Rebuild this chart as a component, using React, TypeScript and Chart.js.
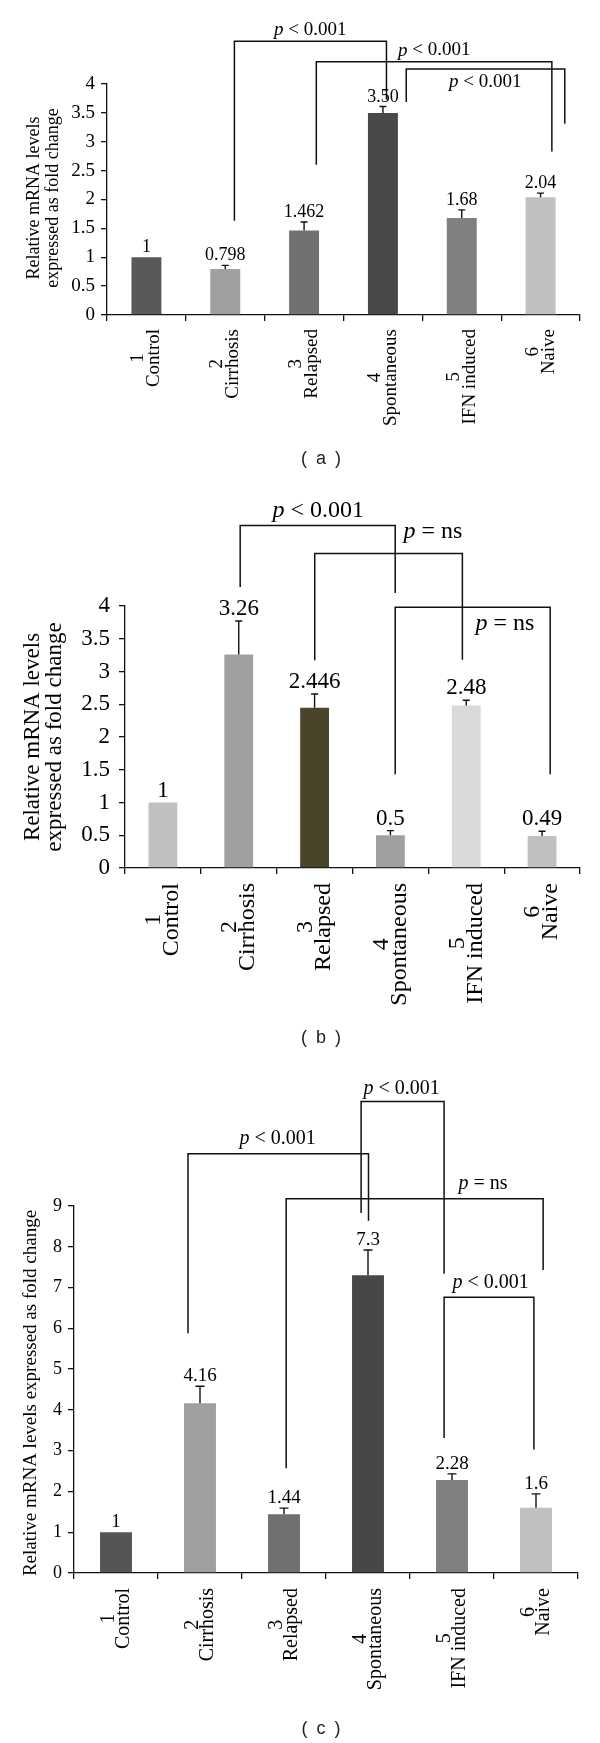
import React, { useEffect, useRef } from "react";
import { Chart, registerables } from "chart.js";

Chart.register(...registerables);

const SERIF = '"Liberation Serif", "Times New Roman", serif';

// ---- shared categories ----
const groupNumbers = ["1", "2", "3", "4", "5", "6"];
const groupNames = ["Control", "Cirrhosis", "Relapsed", "Spontaneous", "IFN induced", "Naive"];

// ---- panel (a) ----
const valuesA = [1, 0.798, 1.462, 3.5, 1.68, 2.04];
const valueTextA = ["1", "0.798", "1.462", "3.50", "1.68", "2.04"];
const errorsA = [0, 0.062, 0.148, 0.11, 0.14, 0.07];
const colorsA = ["#595959", "#a0a0a0", "#717171", "#494949", "#808080", "#c0c0c0"];
// [fromCategory, toCategory, topValue, fromEndValue, toEndValue]
const bracketsA = [
  [1.116, 3.045, 4.74, 1.63, 3.73],
  [2.155, 5.143, 4.385, 2.6, 2.83],
  [3.296, 5.307, 4.26, 3.69, 3.31],
];
const bracketTextA = ["< 0.001", "< 0.001", "< 0.001"];
const bracketTextPosA = [
  [2.077, 4.93],
  [3.65, 4.58],
  [4.297, 4.04],
];

// ---- panel (b) ----
const valuesB = [1, 3.26, 2.446, 0.5, 2.48, 0.49];
const valueTextB = ["1", "3.26", "2.446", "0.5", "2.48", "0.49"];
const errorsB = [0, 0.51, 0.21, 0.07, 0.08, 0.07];
const colorsB = ["#c0c0c0", "#a0a0a0", "#4a452a", "#a0a0a0", "#d9d9d9", "#bfbfbf"];
const bracketsB = [
  [1.019, 3.063, 5.23, 4.29, 4.2],
  [2.002, 3.949, 4.8, 3.17, 3.18],
  [3.063, 5.107, 3.98, 1.43, 1.43],
];
const bracketTextB = ["< 0.001", "= ns", "= ns"];
const bracketTextPosB = [
  [2.047, 5.46],
  [3.56, 5.13],
  [4.51, 3.73],
];

// ---- panel (c) ----
const valuesC = [1, 4.16, 1.44, 7.3, 2.28, 1.6];
const valueTextC = ["1", "4.16", "1.44", "7.3", "2.28", "1.6"];
const errorsC = [0, 0.42, 0.15, 0.62, 0.15, 0.34];
const colorsC = ["#555555", "#a0a0a0", "#707070", "#474747", "#808080", "#c0c0c0"];
const bracketsC = [
  [0.857, 3.006, 10.28, 5.88, 8.64],
  [2.918, 3.906, 11.56, 8.83, 7.34],
  [2.026, 5.085, 9.18, 2.57, 7.43],
  [3.906, 4.975, 6.76, 3.31, 3.03],
];
const bracketTextC = ["< 0.001", "< 0.001", "= ns", "< 0.001"];
const bracketTextPosC = [
  [1.924, 10.65],
  [3.4, 11.88],
  [4.37, 9.55],
  [4.46, 7.11],
];

const yTitleTwoLines = ["Relative mRNA levels", "expressed as fold change"];
const yTitleOneLine = ["Relative mRNA levels expressed as fold change"];

type PanelSpec = {
  values: number[];
  valueText: string[];
  errors: number[];
  colors: string[];
  brackets: number[][];
  bracketText: string[];
  bracketPos: number[][];
  yMax: number;
  yStep: number;
  canvasTop: number;
  canvasHeight: number;
  area: { left: number; right: number; top: number; bottom: number };
  tickFont: number;
  tickPadding: number;
  valueFont: number;
  valueGap: number;
  cap: number;
  noteFont: number;
  xFont: number;
  xLine: number;
  xGap: number;
  yTitle: string[];
  yTitleFont: number;
  yTitleX: number[];
  yTitleY: number;
};

const panels: PanelSpec[] = [
  {
    values: valuesA, valueText: valueTextA, errors: errorsA, colors: colorsA,
    brackets: bracketsA, bracketText: bracketTextA, bracketPos: bracketTextPosA,
    yMax: 4, yStep: 0.5, canvasTop: 0, canvasHeight: 490,
    area: { left: 107, right: 580, top: 84, bottom: 315 },
    tickFont: 19, tickPadding: 6, valueFont: 18, valueGap: 5, cap: 7, noteFont: 19,
    xFont: 19, xLine: 16, xGap: 14,
    yTitle: yTitleTwoLines, yTitleFont: 18, yTitleX: [34, 53], yTitleY: 198,
  },
  {
    values: valuesB, valueText: valueTextB, errors: errorsB, colors: colorsB,
    brackets: bracketsB, bracketText: bracketTextB, bracketPos: bracketTextPosB,
    yMax: 4, yStep: 0.5, canvasTop: 490, canvasHeight: 560,
    area: { left: 125, right: 580, top: 116, bottom: 378 },
    tickFont: 23, tickPadding: 9, valueFont: 23, valueGap: 6, cap: 7, noteFont: 24,
    xFont: 24, xLine: 18, xGap: 15,
    yTitle: yTitleTwoLines, yTitleFont: 23, yTitleX: [33, 55], yTitleY: 247,
  },
  {
    values: valuesC, valueText: valueTextC, errors: errorsC, colors: colorsC,
    brackets: bracketsC, bracketText: bracketTextC, bracketPos: bracketTextPosC,
    yMax: 9, yStep: 1, canvasTop: 1050, canvasHeight: 693,
    area: { left: 74, right: 578, top: 156, bottom: 523 },
    tickFont: 18, tickPadding: 6, valueFont: 19, valueGap: 5, cap: 9, noteFont: 20,
    xFont: 20, xLine: 15, xGap: 15,
    yTitle: yTitleOneLine, yTitleFont: 19, yTitleX: [31], yTitleY: 343,
  },
];

const captions = ["( a )", "( b )", "( c )"];
const captionCenters = [458, 1037, 1728];

function formatTick(v: any) {
  return String(Math.round(Number(v) * 100) / 100);
}

function setFont(ctx: any, f: string) {
  ctx.font = f;
  return ctx.font;
}

function decoPlugin(p: PanelSpec) {
  return {
    id: "deco",
    afterDatasetsDraw(chart: any) {
      const ctx = chart.ctx;
      const meta = chart.getDatasetMeta(0);
      const ys = chart.scales.y;
      ctx.save();
      ctx.strokeStyle = "#111";
      ctx.lineWidth = 1.4;
      meta.data.forEach((bar: any, i: number) => {
        const x = bar.x;
        let top = bar.y;
        if (p.errors[i] > 0) {
          const ey = ys.getPixelForValue(p.values[i] + p.errors[i]);
          ctx.beginPath();
          ctx.moveTo(x, bar.y);
          ctx.lineTo(x, ey);
          ctx.moveTo(x - p.cap / 2, ey);
          ctx.lineTo(x + p.cap / 2, ey);
          ctx.stroke();
          top = ey;
        }
        ctx.fillStyle = "#000";
        setFont(ctx, `${p.valueFont}px ${SERIF}`);
        ctx.textAlign = "center";
        ctx.textBaseline = "alphabetic";
        ctx.fillText(p.valueText[i], x, top - p.valueGap);
      });
      ctx.restore();
    },
    afterDraw(chart: any) {
      const ctx = chart.ctx;
      const xs = chart.scales.x;
      const ys = chart.scales.y;
      const axisY = chart.chartArea.bottom;
      ctx.save();
      // significance brackets
      ctx.strokeStyle = "#111";
      ctx.lineWidth = 1.5;
      p.brackets.forEach((b) => {
        const x1 = xs.getPixelForValue(b[0]);
        const x2 = xs.getPixelForValue(b[1]);
        const yt = ys.getPixelForValue(b[2]);
        const y1 = ys.getPixelForValue(b[3]);
        const y2 = ys.getPixelForValue(b[4]);
        ctx.beginPath();
        ctx.moveTo(x1, y1);
        ctx.lineTo(x1, yt);
        ctx.lineTo(x2, yt);
        ctx.lineTo(x2, y2);
        ctx.stroke();
      });
      ctx.fillStyle = "#000";
      ctx.textBaseline = "middle";
      ctx.textAlign = "left";
      p.bracketPos.forEach((pos, i) => {
        const cx = xs.getPixelForValue(pos[0]);
        const cy = ys.getPixelForValue(pos[1]);
        const fItalic = `italic ${p.noteFont}px ${SERIF}`;
        const fNormal = `${p.noteFont}px ${SERIF}`;
        setFont(ctx, fItalic);
        const wp = ctx.measureText("p").width;
        const rest = " " + p.bracketText[i];
        setFont(ctx, fNormal);
        const wr = ctx.measureText(rest).width;
        const sx = cx - (wp + wr) / 2;
        setFont(ctx, fItalic);
        ctx.fillText("p", sx, cy);
        setFont(ctx, fNormal);
        ctx.fillText(rest, sx + wp, cy);
      });
      // rotated category labels (number above name, lines centred)
      const xf = `${p.xFont}px ${SERIF}`;
      ctx.textAlign = "center";
      ctx.textBaseline = "middle";
      groupNames.forEach((name, i) => {
        setFont(ctx, xf);
        const lines = [groupNumbers[i], name];
        const maxW = Math.max(...lines.map((l) => ctx.measureText(l).width));
        const x = xs.getPixelForValue(i);
        const yc = axisY + p.xGap + maxW / 2;
        ctx.save();
        ctx.translate(x, yc);
        ctx.rotate(-Math.PI / 2);
        setFont(ctx, xf);
        lines.forEach((l, j) => {
          ctx.fillText(l, 0, (j - (lines.length - 1) / 2) * p.xLine);
        });
        ctx.restore();
      });
      // y axis title
      p.yTitle.forEach((l, j) => {
        ctx.save();
        ctx.translate(p.yTitleX[j], p.yTitleY);
        ctx.rotate(-Math.PI / 2);
        setFont(ctx, `${p.yTitleFont}px ${SERIF}`);
        ctx.fillStyle = "#000";
        ctx.textAlign = "center";
        ctx.textBaseline = "middle";
        ctx.fillText(l, 0, 0);
        ctx.restore();
      });
      ctx.restore();
    },
  };
}

function Panel({ spec }: { spec: PanelSpec }) {
  const ref = useRef<HTMLCanvasElement | null>(null);
  useEffect(() => {
    if (!ref.current) return;
    const a = spec.area;
    const chart = new Chart(ref.current, {
      type: "bar",
      data: {
        labels: groupNames,
        datasets: [
          {
            data: spec.values,
            backgroundColor: spec.colors,
            borderWidth: 0,
            categoryPercentage: 1,
            barPercentage: 0.38,
          },
        ],
      },
      options: {
        animation: false,
        responsive: false,
        devicePixelRatio: 1,
        layout: {
          padding: {
            top: a.top,
            left: 0,
            right: 600 - a.right,
            bottom: spec.canvasHeight - a.bottom - 10,
          },
        },
        plugins: { legend: { display: false }, tooltip: { enabled: false } },
        scales: {
          x: {
            offset: true,
            grid: {
              display: true,
              offset: true,
              drawOnChartArea: false,
              drawTicks: true,
              tickLength: 6,
              color: "#111",
              lineWidth: 1.3,
            },
            border: { display: true, color: "#111", width: 1.3 },
            ticks: { display: false },
            afterFit: (s: any) => {
              s.height = 10;
            },
          },
          y: {
            min: 0,
            max: spec.yMax,
            ticks: {
              stepSize: spec.yStep,
              color: "#000",
              padding: spec.tickPadding,
              font: { family: SERIF, size: spec.tickFont },
              callback: formatTick,
            },
            grid: {
              drawOnChartArea: false,
              drawTicks: true,
              tickLength: 6,
              color: "#111",
              lineWidth: 1.3,
            },
            border: { display: true, color: "#111", width: 1.3 },
            afterFit: (s: any) => {
              s.width = a.left;
            },
          },
        },
      },
      plugins: [decoPlugin(spec)],
    } as any);
    return () => chart.destroy();
  }, [spec]);
  return (
    <canvas
      ref={ref}
      width={600}
      height={spec.canvasHeight}
      style={{ position: "absolute", left: 0, top: spec.canvasTop, width: 600, height: spec.canvasHeight }}
    />
  );
}

export default function App() {
  return (
    <div style={{ position: "absolute", left: 0, top: 0, width: 600, height: 1743, background: "#fff", overflow: "hidden" }}>
      {panels.map((p, i) => (
        <Panel key={i} spec={p} />
      ))}
      {captions.map((c, i) => (
        <div
          key={c}
          style={{
            position: "absolute",
            left: 0,
            width: 644,
            top: captionCenters[i] - 11,
            height: 22,
            lineHeight: "22px",
            textAlign: "center",
            fontFamily: '"Liberation Sans", Arial, sans-serif',
            fontSize: 18,
            letterSpacing: 2,
            color: "#222",
            whiteSpace: "pre",
          }}
        >
          {c}
        </div>
      ))}
    </div>
  );
}
